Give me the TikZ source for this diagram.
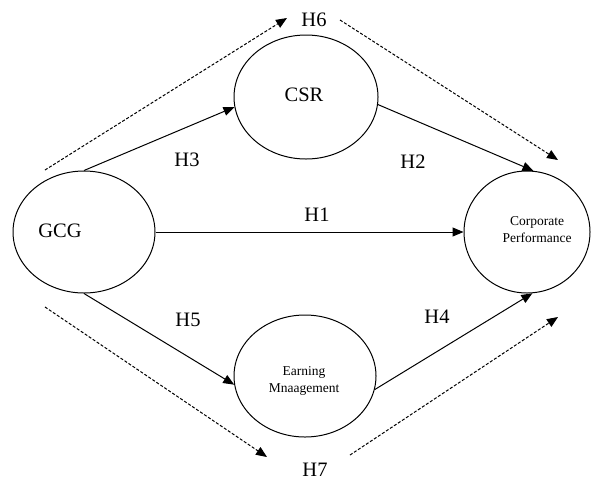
\documentclass[tikz,border=0pt]{standalone}
\usepackage{fontspec}
\setmainfont{Liberation Serif}
\usetikzlibrary{arrows.meta,shapes.geometric}
\begin{document}
\begin{tikzpicture}[x=1pt,y=-1pt,
  construct/.style={draw, ellipse, inner sep=0pt, line width=1pt},
  link/.style={line width=1pt, -{Triangle[length=11pt,width=9pt]}},
  dlink/.style={line width=1pt, dash pattern=on 3pt off 1.8pt, -{Triangle[length=11pt,width=9pt]}},
  hlabel/.style={font=\fontsize{20.5}{24}\selectfont, inner sep=0pt},
  small/.style={font=\fontsize{13.5}{17}\selectfont, align=center, inner sep=0pt}]
\useasboundingbox (0,0) rectangle (593,480);
% constructs
\node[construct, minimum width=142pt, minimum height=122pt] (gcg) at (84,232) {};
\node[construct, minimum width=144pt, minimum height=124pt] (csr) at (306,97) {};
\node[construct, minimum width=126pt, minimum height=122pt] (cp) at (527,232) {};
\node[construct, minimum width=142pt, minimum height=122pt] (em) at (305,376) {};
% texts
\node[hlabel] (gcgt) at (60,231) {GCG};
\node[hlabel] (csrt) at (304,95) {CSR};
\node[small] (cpt) at (537,230) {Corporate\\Performance};
\node[small] (emt) at (304,381) {Earning\\Mnaagement};
% solid paths
\draw[link] (gcg.north) -- (csr.188);
\draw[link] (csr.354) -- (cp.84);
\draw[link] (gcg.east) -- (cp.west);
\draw[link] (gcg.south) -- (em.187);
\draw[link] (em.349) -- (cp.275);
% dashed paths
\coordinate (h6a) at (45,170);
\coordinate (h6b) at (287,18);
\coordinate (h6c) at (340,20);
\coordinate (h6d) at (558,160);
\coordinate (h7a) at (45,307);
\coordinate (h7b) at (267,457);
\coordinate (h7c) at (350,455);
\coordinate (h7d) at (558,317);
\draw[dlink] (h6a) -- (h6b);
\draw[dlink] (h6c) -- (h6d);
\draw[dlink] (h7a) -- (h7b);
\draw[dlink] (h7c) -- (h7d);
% labels
\node[hlabel] (h1) at (317,215) {H1};
\node[hlabel] (h2) at (413,162) {H2};
\node[hlabel] (h3) at (187,160) {H3};
\node[hlabel] (h4) at (437,317) {H4};
\node[hlabel] (h5) at (188,320) {H5};
\node[hlabel] (h6) at (314,20) {H6};
\node[hlabel] (h7) at (315,470) {H7};
\end{tikzpicture}
\end{document}
